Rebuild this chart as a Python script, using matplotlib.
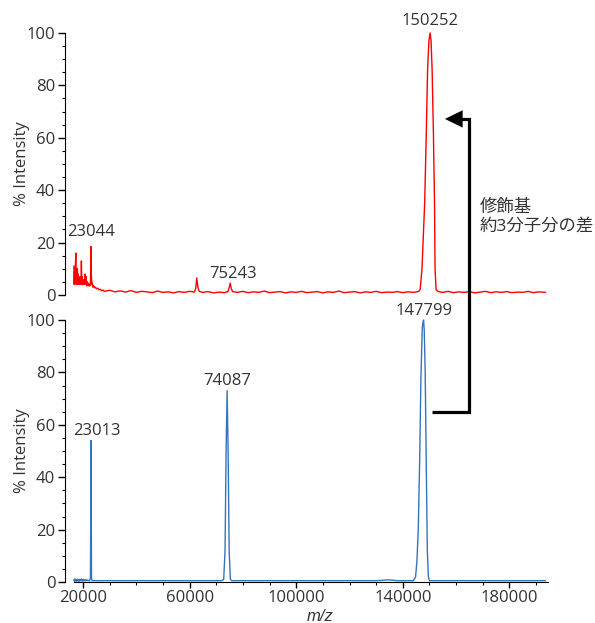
## mass spectra, before / after modification (2 stacked panels)
import numpy as np
import matplotlib
matplotlib.use('Agg')
import matplotlib.pyplot as plt
from matplotlib.patches import FancyArrowPatch
from matplotlib.path import Path

plt.rcParams['font.family'] = ['Open Sans', 'Noto Sans CJK JP', 'DejaVu Sans']

## red trace (modified), (m/z, % intensity)
red_low = [(16600, 11), (16700, 4), (16850, 9), (17000, 5), (17150, 10), (17300, 16),
           (17450, 4), (17600, 9), (17750, 5), (17900, 10), (18050, 4), (18200, 8),
           (18350, 4), (18500, 7), (18650, 4), (18800, 6), (18950, 5), (19100, 7),
           (19250, 4), (19400, 13), (19550, 5), (19700, 7), (19850, 4), (20000, 6),
           (20200, 4), (20400, 5), (20600, 4), (20800, 8), (21000, 4), (21200, 7),
           (21400, 3.5), (21600, 5), (21800, 4), (22000, 4.5), (22200, 3.5), (22400, 4),
           (22600, 3.5), (22800, 5), (22950, 12), (23044, 18.5), (23150, 8), (23300, 4),
           (23500, 4.5), (23700, 3), (24000, 3.5), (24300, 2.8), (24600, 3), (25000, 2.4),
           (25500, 2.6), (26000, 2), (26500, 2.2), (27000, 1.6), (27500, 1.9)]
red_base = [(28000, 1.4), (30000, 1.8), (32000, 1.2), (34000, 1.6), (36000, 1.1), (38000, 1.7),
            (40000, 1.0), (42000, 1.4), (44000, 1.2), (46000, 0.9), (48000, 1.5), (50000, 1.0),
            (52000, 1.2), (54000, 0.8), (56000, 1.3), (58000, 1.0), (60000, 1.4), (61800, 1.1),
            (62300, 2.5), (62700, 6.5), (63100, 3.0), (63600, 1.4), (65000, 1.0), (67000, 1.3),
            (69000, 0.8), (71000, 1.1), (73000, 0.9), (74400, 1.3), (74900, 3.0), (75243, 4.5),
            (75600, 2.6), (76100, 1.3), (78000, 1.0), (80000, 1.4), (82000, 0.9), (84000, 1.2),
            (86000, 1.0), (88000, 1.5), (90000, 0.9), (92000, 1.1), (94000, 1.3), (96000, 0.8),
            (98000, 1.2), (100000, 1.0), (102000, 1.4), (104000, 0.9), (106000, 1.1), (108000, 1.3),
            (110000, 0.8), (112000, 1.2), (114000, 1.0), (116000, 1.5), (118000, 0.9), (120000, 1.1),
            (122000, 1.3), (124000, 0.8), (126000, 1.2), (128000, 1.0), (130000, 1.4), (132000, 0.9),
            (134000, 1.1), (136000, 1.0), (138000, 1.3), (140000, 0.9), (142000, 1.2), (144000, 1.0),
            (145800, 1.3)]
red_main = [(146500, 2.0), (147200, 10), (148200, 35), (148800, 61), (149300, 86), (149800, 97),
            (150252, 100), (150600, 97), (151000, 86), (151500, 61), (151900, 35), (152100, 10),
            (152500, 2.0)]
red_tail = [(153300, 1.3), (155000, 1.0), (157000, 1.4), (159000, 0.9), (161000, 1.2), (163000, 1.0),
            (165000, 1.3), (167000, 0.8), (169000, 1.1), (171000, 1.4), (173000, 0.9), (175000, 1.2),
            (177000, 1.0), (179000, 1.3), (181000, 0.9), (183000, 1.1), (185000, 1.0), (187000, 1.4),
            (189000, 0.9), (191000, 1.2), (193500, 1.0)]

## blue trace (unmodified)
blue_low = [(16600, 0.8), (16800, 0.3), (17000, 1.2), (17200, 0.4), (17400, 0.9), (17600, 0.3),
            (17800, 1.1), (18000, 0.5), (18200, 0.8), (18400, 0.3), (18600, 1.0), (18800, 0.4),
            (19000, 0.9), (19200, 0.5), (19400, 1.2), (19600, 0.4), (19800, 0.8), (20000, 0.5),
            (20200, 1.0), (20400, 0.4), (20600, 0.7), (20800, 0.5), (21000, 0.9), (21300, 0.6),
            (21600, 0.8), (21900, 0.5), (22200, 0.6), (22500, 0.5)]
blue_p1 = [(22800, 1.5), (22950, 35), (23013, 54), (23080, 30), (23200, 1.5), (23400, 0.5)]
blue_p2 = [(72000, 0.5), (72800, 1.0), (73300, 12), (73700, 50), (74087, 73), (74450, 50),
           (74850, 12), (75300, 1.0), (75800, 0.5)]
blue_bump = [(130000, 0.5), (132000, 0.6), (134000, 0.8), (136000, 0.7), (138000, 0.5)]
blue_p3 = [(144000, 0.5), (144800, 2), (145300, 8), (145800, 20), (146300, 45), (146800, 78),
           (147300, 97), (147550, 99), (147799, 100), (148050, 96), (148400, 80), (148800, 45),
           (149200, 12), (149600, 2), (150000, 0.5), (193500, 0.5)]

red_labels = [(23044, 18.5, '23044'), (75243, 4.5, '75243'), (150252, 100, '150252')]
blue_labels = [(23013, 54, '23013'), (74087, 73, '74087'), (147799, 100, '147799')]

note = '修飾基\n約3分子分の差'

red = np.array(red_low + red_base + red_main + red_tail)
blue = np.array(blue_low + blue_p1 + blue_p2 + blue_bump + blue_p3)

W, H = 595, 623
fig = plt.figure(figsize=(W/100, H/100), dpi=100)
ax1 = fig.add_axes([65/W, 1-295/H, 483/W, 262/H])
ax2 = fig.add_axes([65/W, 1-582/H, 483/W, 262/H])

tcol = '#333333'
for ax in (ax1, ax2):
    ax.set_xlim(13250, 194480)
    ax.set_ylim(0, 100)
    ax.spines['top'].set_visible(False)
    ax.spines['right'].set_visible(False)
    ax.set_yticks([0, 20, 40, 60, 80, 100])
    ax.set_yticks(np.arange(0, 101, 5), minor=True)
    ax.tick_params(axis='y', which='major', length=5, width=1, pad=2, labelsize=12, labelcolor=tcol)
    ax.tick_params(axis='y', which='minor', length=2.5, width=0.8)
    ax.set_ylabel('% Intensity', fontsize=12, color=tcol)
    ax.yaxis.set_label_coords(-0.072, 0.5)

ax1.spines['bottom'].set_visible(False)
ax1.set_xticks([])
ax1.set_xticks([], minor=True)

ax2.spines['bottom'].set_bounds(16600, 194480)
ax2.set_xticks([20000, 60000, 100000, 140000, 180000])
ax2.set_xticks(np.arange(20000, 190001, 10000), minor=True)
ax2.tick_params(axis='x', which='major', length=4, width=1, pad=2, labelsize=12, labelcolor=tcol)
ax2.tick_params(axis='x', which='minor', length=2.5, width=0.8)
ax2.set_xlabel('m/z', fontsize=12, color=tcol, family='Liberation Sans', style='italic')
ax2.xaxis.set_label_coords(0.528, -0.102)

ax1.plot(red[:, 0], red[:, 1], color='#ff0000', lw=1.0, clip_on=False)
ax2.plot(blue[:, 0], blue[:, 1], color='#3574bd', lw=1.0, clip_on=False)

## label offsets in points (dx, dy)
red_off = [(0, 5), (2, 1), (0, 3)]
blue_off = [(4, 1), (0, 1), (0, 1)]
for (mz, v, s), off in zip(red_labels, red_off):
    ax1.annotate(s, (mz, v), xytext=off, textcoords='offset points',
                 ha='center', va='bottom', fontsize=12, color=tcol)
for (mz, v, s), off in zip(blue_labels, blue_off):
    ax2.annotate(s, (mz, v), xytext=off, textcoords='offset points',
                 ha='center', va='bottom', fontsize=12, color=tcol)

## bracket arrow from lower peak to upper peak
to_fig = fig.transFigure.inverted()
p0 = to_fig.transform(ax2.transData.transform((151000, 65)))
p1 = to_fig.transform(ax2.transData.transform((164700, 65)))
p2 = to_fig.transform(ax1.transData.transform((164700, 67.2)))
p3 = to_fig.transform(ax1.transData.transform((155800, 67.2)))
path = Path([p0, p1, p2, p3], [Path.MOVETO, Path.LINETO, Path.LINETO, Path.LINETO])
arr = FancyArrowPatch(path=path, arrowstyle='-|>,head_length=0.45,head_width=0.22',
                      mutation_scale=20, lw=2.3, color='black', transform=fig.transFigure,
                      joinstyle='miter', capstyle='butt')
fig.add_artist(arr)

fig.text(480/W, 1-200/H, note, fontsize=12.5, color=tcol, ha='left', va='top', linespacing=1.2)

plt.savefig('out.png', dpi=100)
